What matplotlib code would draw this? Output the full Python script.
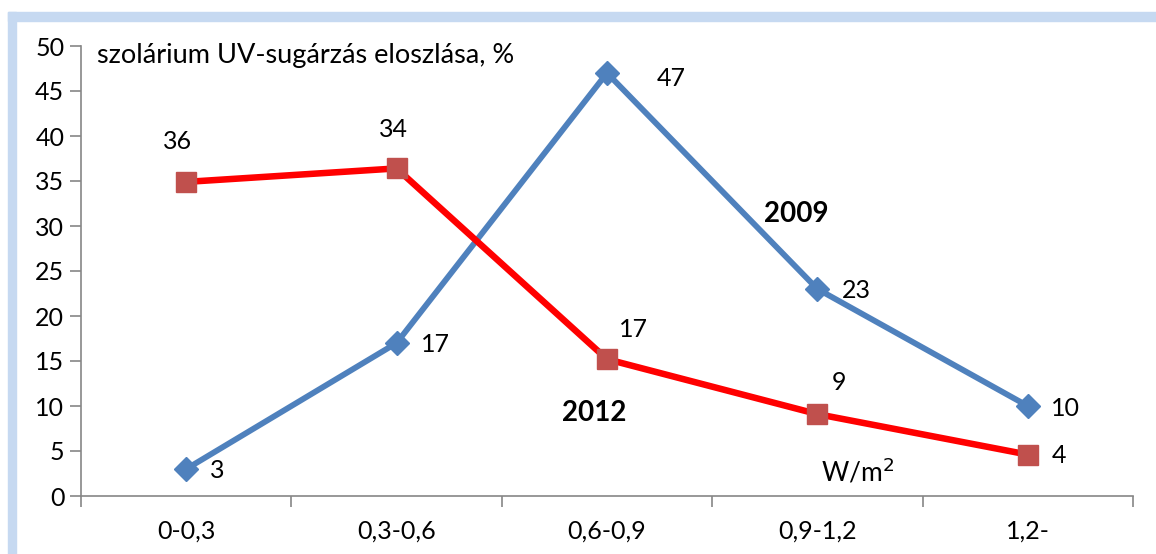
import matplotlib.pyplot as plt
from matplotlib.patches import Rectangle

categories = ['0-0,3', '0,3-0,6', '0,6-0,9', '0,9-1,2', '1,2-']
y2009 = [3, 17, 47, 23, 10]
y2012 = [34.9, 36.4, 15.2, 9.1, 4.6]
labels2009 = ['3', '17', '47', '23', '10']
labels2012 = ['36', '34', '17', '9', '4']

# label offsets in pixels (x right, y up); converted to points below
off2009 = [(31, -2), (39, -1), (64, -6), (39, -1), (38, -2)]
off2012 = [(-9, 40), (-3, 39), (26, 30), (22, 32), (31, -1)]

plt.rcParams['font.family'] = ['Lato', 'DejaVu Sans']
FS = 18

W, H = 1156, 554
fig = plt.figure(figsize=(W / 100, H / 100), dpi=100)

# light blue frame on top and left
frame_c = '#C6D9F1'
fig.patches.append(Rectangle((8 / W, 1 - 21 / H), 1 - 8 / W, 9 / H,
                             transform=fig.transFigure, color=frame_c, zorder=0))
fig.patches.append(Rectangle((8 / W, 0), 8 / W, 1 - 12 / H,
                             transform=fig.transFigure, color=frame_c, zorder=0))

ax = fig.add_axes([81 / W, 58 / H, (1133 - 81) / W, (496 - 46) / H])
x = list(range(len(categories)))

ax.plot(x, y2009, color='#4F81BD', lw=4.2, marker='D', ms=12,
        mfc='#4F81BD', mec='#4F81BD', zorder=3)
ax.plot(x, y2012, color='#FF0000', lw=4.7, marker='s', ms=14,
        mfc='#C0504D', mec='#C0504D', zorder=3)

for xi, yi, t, (dx, dy) in zip(x, y2009, labels2009, off2009):
    ax.annotate(t, (xi, yi), xytext=(dx * 0.72, dy * 0.72), textcoords='offset points',
                ha='center', va='center', fontsize=FS)
for xi, yi, t, (dx, dy) in zip(x, y2012, labels2012, off2012):
    ax.annotate(t, (xi, yi), xytext=(dx * 0.72, dy * 0.72), textcoords='offset points',
                ha='center', va='center', fontsize=FS)

ax.set_xlim(-0.5, len(categories) - 0.5)
ax.set_ylim(0, 50)
ax.set_yticks(range(0, 51, 5))
ax.set_xticks(x)
ax.set_xticklabels(categories)
ax.set_xticks([i - 0.5 for i in range(len(categories) + 1)], minor=True)
ax.tick_params(axis='x', which='major', length=0, pad=17, labelsize=FS)
ax.tick_params(axis='x', which='minor', length=8, color='#868686', width=1.2)
ax.tick_params(axis='y', length=8, color='#868686', width=1.2, labelsize=FS, pad=4)

for s in ['top', 'right']:
    ax.spines[s].set_visible(False)
for s in ['left', 'bottom']:
    ax.spines[s].set_color('#868686')
    ax.spines[s].set_linewidth(1.2)

ax.text(97 / W, 1 - 55 / H, 'szolárium UV-sugárzás eloszlása, %', transform=fig.transFigure,
        fontsize=19.5, va='center', ha='left')
ax.text(796 / W, 1 - 214 / H, '2009', transform=fig.transFigure,
        fontsize=20, fontweight='bold', va='center', ha='center')
ax.text(594 / W, 1 - 413 / H, '2012', transform=fig.transFigure,
        fontsize=20, fontweight='bold', va='center', ha='center')
ax.text(858 / W, 1 - 472 / H, 'W/m$^2$', transform=fig.transFigure,
        fontsize=19, va='center', ha='center')

fig.savefig('out.png', dpi=100)
